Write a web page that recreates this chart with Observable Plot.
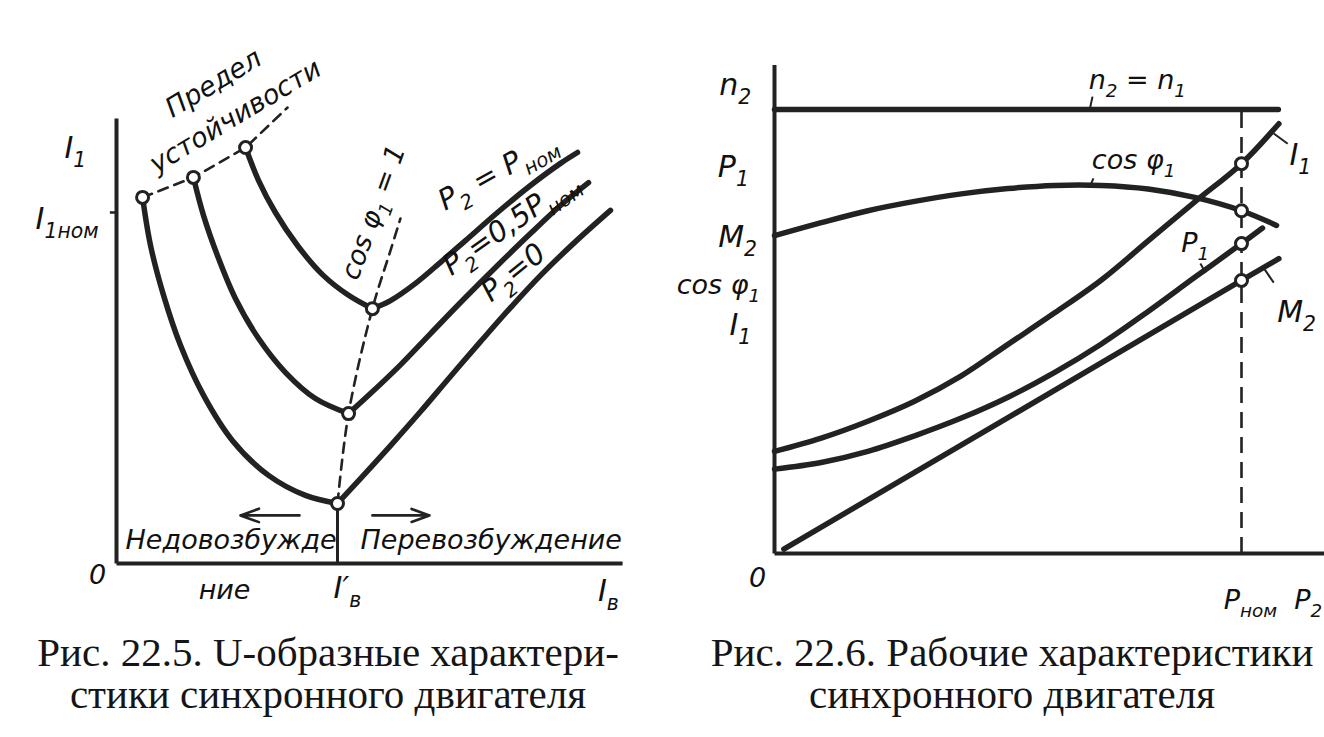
<!DOCTYPE html>
<html><head><meta charset="utf-8">
<script src="https://cdn.jsdelivr.net/npm/d3@7"></script>
<script src="https://cdn.jsdelivr.net/npm/@observablehq/plot@0.6"></script>
<style>
html,body{margin:0;padding:0;background:#fff;}
#wrap{position:relative;width:1324px;height:737px;overflow:hidden;background:#fff;}
#left,#right{position:absolute;top:0;width:662px;height:620px;}
#left{left:0;} #right{left:662px;}
.cap{position:absolute;top:631px;font-family:"Liberation Serif","DejaVu Serif",serif;font-size:41px;line-height:42px;text-align:center;color:#151515;white-space:nowrap;}
</style></head><body>
<div id="wrap"><div id="left"></div><div id="right"></div></div>
<script>
// ---------- Fig. 22.5: U-shaped curves (x = Iв / I'в, y = I1 / I1ном) ----------
const p0LeftIb   = [0.118, 0.154, 0.213, 0.290, 0.394, 0.525, 0.688, 0.855, 1.000];
const p0LeftI1   = [1.043, 0.906, 0.764, 0.621, 0.479, 0.350, 0.251, 0.194, 0.171];
const p0RightIb  = [1.000, 1.104, 1.240, 1.376, 1.511, 1.647, 1.783, 1.919, 2.077, 2.235];
const p0RightI1  = [0.171, 0.242, 0.336, 0.433, 0.533, 0.632, 0.729, 0.821, 0.917, 1.006];
const p05LeftIb  = [0.348, 0.394, 0.457, 0.538, 0.643, 0.765, 0.900, 1.050];
const p05LeftI1  = [1.100, 0.991, 0.877, 0.755, 0.641, 0.544, 0.470, 0.427];
const p05RightIb = [1.050, 1.149, 1.285, 1.421, 1.570, 1.724, 1.873, 2.009, 2.136];
const p05RightI1 = [0.427, 0.484, 0.566, 0.655, 0.752, 0.849, 0.940, 1.020, 1.085];
const pNomLeftIb  = [0.584, 0.643, 0.719, 0.819, 0.932, 1.050, 1.158];
const pNomLeftI1  = [1.185, 1.091, 1.000, 0.906, 0.823, 0.764, 0.726];
const pNomRightIb = [1.158, 1.240, 1.353, 1.466, 1.579, 1.724, 1.873, 2.009, 2.086];
const pNomRightI1 = [0.726, 0.749, 0.798, 0.858, 0.920, 1.000, 1.077, 1.140, 1.171];
const limitIb = [0.118, 0.348, 0.584, 0.774];
const limitI1 = [1.043, 1.100, 1.185, 1.299];
const cosOneIb = [1.000, 1.050, 1.158, 1.240, 1.285];
const cosOneI1 = [0.171, 0.427, 0.726, 0.892, 0.983];
const uAxisMax = {x: 2.29, y: 1.268};

// ---------- Fig. 22.6: working characteristics (x = P2 / Pном) ----------
const n2P2  = [0, 1.079];
const n2Val = [1, 1];
const cosP2  = [0, 0.1, 0.2, 0.3, 0.4, 0.5, 0.6, 0.7, 0.8, 0.9, 1.0, 1.075];
const cosVal = [0.716, 0.745, 0.772, 0.793, 0.810, 0.822, 0.829, 0.829, 0.821, 0.802, 0.772, 0.739];
const i1P2  = [0, 0.1, 0.2, 0.3, 0.4, 0.5, 0.6, 0.7, 0.8, 0.9, 1.0, 1.08];
const i1Val = [0.230, 0.260, 0.298, 0.343, 0.400, 0.471, 0.542, 0.616, 0.704, 0.792, 0.878, 0.968];
const p1P2  = [0, 0.1, 0.2, 0.3, 0.4, 0.5, 0.6, 0.7, 0.8, 0.9, 1.0, 1.045];
const p1Val = [0.190, 0.205, 0.230, 0.265, 0.305, 0.352, 0.408, 0.472, 0.545, 0.622, 0.698, 0.733];
const m2P2  = [0.02, 0.5, 1.0, 1.08];
const m2Val = [0.010, 0.306, 0.615, 0.664];
const wAxisMax = {x: 1.18, y: 1.10};

const caption1 = ["Рис. 22.5. U-образные характери-", "стики синхронного двигателя"];
const caption2 = ["Рис. 22.6. Рабочие характеристики", "синхронного двигателя"];

// ---------- helpers ----------
const INK = "#222";
const FONT = "'DejaVu Sans', 'Liberation Sans', sans-serif";
const pts = (xs, ys) => xs.map((x, i) => ({x, y: ys[i]}));
const curve = (xs, ys) => Plot.line(pts(xs, ys), {x: "x", y: "y", curve: "catmull-rom", stroke: INK, strokeWidth: 5.5, strokeLinecap: "round", strokeLinejoin: "round"});
const dashed = (xs, ys, curveType = "catmull-rom") => Plot.line(pts(xs, ys), {x: "x", y: "y", curve: curveType, stroke: INK, strokeWidth: 2.6, strokeDasharray: "10,7"});
const rings = (arr) => Plot.dot(arr, {x: "x", y: "y", r: 6, fill: "white", stroke: INK, strokeWidth: 3});
const lbl = (s, x, y, o = {}) => Plot.text([{s, x, y}], {x: "x", y: "y", text: "s", fill: "#111", fontSize: o.size || 27, fontStyle: "italic", fontFamily: FONT, textAnchor: o.anchor || "middle", rotate: o.rotate || 0});
const seg = (x1, y1, x2, y2, w = 2.5) => Plot.link([{x1, y1, x2, y2}], {x1: "x1", y1: "y1", x2: "x2", y2: "y2", stroke: INK, strokeWidth: w});
const at = (xs, ys, x) => ({x, y: ys[xs.indexOf(x)]});

function richText(svg) {
  for (const t of svg.querySelectorAll("text")) {
    const els = t.querySelectorAll("tspan").length ? [...t.querySelectorAll("tspan")] : [t];
    for (const el of els) {
      const s = el.textContent;
      if (!/[_^]\{/.test(s)) continue;
      el.textContent = "";
      const re = /([_^])\{([^}]*)\}|([^_^]+)/g;
      let m;
      while ((m = re.exec(s))) {
        const ts = document.createElementNS("http://www.w3.org/2000/svg", "tspan");
        if (m[3] !== undefined) ts.textContent = m[3];
        else {
          ts.textContent = m[2];
          ts.setAttribute("font-size", "68%");
          ts.setAttribute("baseline-shift", m[1] === "_" ? "-0.45em" : "0.6em");
        }
        el.appendChild(ts);
      }
    }
  }
}

// ---------- left chart ----------
const left = Plot.plot({
  width: 662, height: 620,
  x: {domain: [0, 1], range: [116, 337], axis: null},
  y: {domain: [0, 1], range: [563, 212], axis: null},
  style: {background: "transparent", overflow: "visible"},
  marks: [
    seg(0, 0, 0, uAxisMax.y, 4),
    seg(0, 0, uAxisMax.x, 0, 4),
    seg(-0.03, 1, 0, 1, 2.5),
    seg(1, 0, 1, cosOneI1[0], 3),
    dashed(limitIb, limitI1, "linear"),
    dashed(cosOneIb, cosOneI1),
    curve(p0LeftIb, p0LeftI1), curve(p0RightIb, p0RightI1),
    curve(p05LeftIb, p05LeftI1), curve(p05RightIb, p05RightI1),
    curve(pNomLeftIb, pNomLeftI1), curve(pNomRightIb, pNomRightI1),
    rings([
      {x: p0LeftIb[0], y: p0LeftI1[0]}, {x: p05LeftIb[0], y: p05LeftI1[0]}, {x: pNomLeftIb[0], y: pNomLeftI1[0]},
      {x: p0RightIb[0], y: p0RightI1[0]}, {x: p05RightIb[0], y: p05RightI1[0]}, {x: pNomRightIb[0], y: pNomRightI1[0]}
    ]),
    Plot.arrow([{x1: 0.828, x2: 0.561, y: 0.137}, {x1: 1.158, x2: 1.416, y: 0.137}], {x1: "x1", x2: "x2", y1: "y", y2: "y", stroke: INK, strokeWidth: 2.6, headLength: 12, headAngle: 40}),
    lbl("I_{1}", -0.186, 1.182, {size: 30}),
    lbl("I_{1ном}", -0.081, 0.98, {anchor: "end", size: 30}),
    lbl("0", -0.086, -0.034),
    lbl("I′_{в}", 1.045, -0.071, {size: 30}),
    lbl("I_{в}", 2.226, -0.08, {size: 30}),
    lbl("ние", 0.489, -0.077),
    lbl("Недовозбужде", 0.041, 0.066, {anchor: "start"}),
    lbl("Перевозбуждение", 1.104, 0.066, {anchor: "start"}),
    lbl("Предел", 0.439, 1.368, {rotate: -31}),
    lbl("устойчивости", 0.538, 1.274, {rotate: -31}),
    lbl("cos φ_{1} = 1", 1.163, 1.0, {rotate: -70}),
    lbl("P_{2} = P_{ном}", 1.724, 1.117, {rotate: -29, size: 29}),
    lbl("P_{2}=0,5P_{ном}", 1.783, 0.969, {rotate: -35, size: 29}),
    lbl("P_{2}=0", 1.796, 0.829, {rotate: -39, size: 29})
  ]
});

// ---------- right chart ----------
const right = Plot.plot({
  width: 662, height: 620,
  x: {domain: [0, 1], range: [112, 579], axis: null},
  y: {domain: [0, 1], range: [553, 109], axis: null},
  style: {background: "transparent", overflow: "visible"},
  marks: [
    seg(0, 0, 0, wAxisMax.y, 4),
    seg(0, 0, wAxisMax.x, 0, 4),
    Plot.ruleX([1], {y1: 0, y2: 1, stroke: INK, strokeWidth: 2.6, strokeDasharray: "16,9"}),
    curve(n2P2, n2Val), curve(cosP2, cosVal), curve(i1P2, i1Val), curve(p1P2, p1Val),
    Plot.line(pts(m2P2, m2Val), {x: "x", y: "y", stroke: INK, strokeWidth: 5.5, strokeLinecap: "round"}),
    rings([at(n2P2, n2Val, 1), at(cosP2, cosVal, 1.0), at(i1P2, i1Val, 1.0), at(p1P2, p1Val, 1.0), at(m2P2, m2Val, 1.0)]),
    seg(0.681, 1.029, 0.675, 1.0, 2),
    seg(0.683, 0.845, 0.675, 0.826, 2),
    seg(1.069, 0.946, 1.099, 0.923, 2),
    seg(0.912, 0.653, 0.923, 0.632, 2),
    seg(1.047, 0.644, 1.069, 0.610, 2),
    lbl("n_{2}", -0.084, 1.054, {size: 30}),
    lbl("P_{1}", -0.088, 0.869, {size: 30}),
    lbl("M_{2}", -0.079, 0.712, {size: 30}),
    lbl("cos φ_{1}", -0.12, 0.604),
    lbl("I_{1}", -0.073, 0.514, {size: 30}),
    lbl("0", -0.036, -0.056),
    lbl("P_{ном}", 1.019, -0.106),
    lbl("P_{2}", 1.173, -0.106, {anchor: "end"}),
    lbl("n_{2} = n_{1}", 0.777, 1.065),
    lbl("cos φ_{1}", 0.769, 0.885),
    lbl("I_{1}", 1.126, 0.896, {size: 30}),
    lbl("P_{1}", 0.901, 0.698),
    lbl("M_{2}", 1.118, 0.543, {size: 30})
  ]
});

document.getElementById("left").appendChild(left);
document.getElementById("right").appendChild(right);
richText(left); richText(right);

const wrap = document.getElementById("wrap");
[[caption1, 0, 656], [caption2, 700, 624]].forEach(([lines, l, w]) => {
  const d = document.createElement("div");
  d.className = "cap";
  d.style.left = l + "px"; d.style.width = w + "px";
  d.innerHTML = lines.map(s => s.replace(/&/g, "&amp;").replace(/</g, "&lt;")).join("<br>");
  wrap.appendChild(d);
});
</script>
</body></html>
